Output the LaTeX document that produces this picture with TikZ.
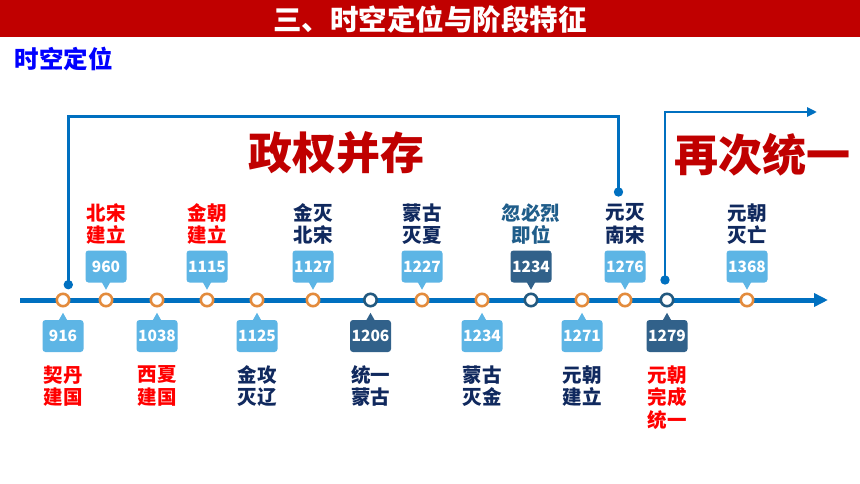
\documentclass[tikz,border=0pt]{standalone}
\usepackage{fontspec}
\setmainfont{Noto Sans CJK SC}
\usetikzlibrary{arrows.meta}
\definecolor{banner}{HTML}{C00000}
\definecolor{lineblue}{HTML}{0070C0}
\definecolor{boxlight}{HTML}{5DB5E5}
\definecolor{boxdark}{HTML}{31618A}
\definecolor{circorange}{HTML}{E38B3C}
\definecolor{circdark}{HTML}{22597F}
\definecolor{navy}{HTML}{10295E}
\definecolor{teal}{HTML}{1F5D8A}
\definecolor{redtxt}{HTML}{FF0000}
\definecolor{bigred}{HTML}{C00000}
\definecolor{subblue}{HTML}{0000FF}
\tikzset{
  box/.style={rounded corners=3pt, minimum width=41pt, minimum height=32pt, inner sep=0pt,
    text=white, font=\bfseries\fontsize{15.5}{15.5}\selectfont},
  lab/.style={font=\bfseries\fontsize{19.5}{22.5}\selectfont, align=center, inner sep=0pt},
  circ/.style={circle, minimum size=12.4pt, inner sep=0pt, line width=2.6pt, fill=white},
  bdot/.style={circle, minimum size=9.4pt, inner sep=0pt, fill=lineblue},
  bracket/.style={draw=lineblue, line width=2.8pt},
  bigtxt/.style={font=\bfseries\fontsize{44}{44}\selectfont, inner sep=0pt},
}
% #1 name, #2 x, #3 box colour, #4 circle colour, #5 text colour, #6 year, #7 label
\newcommand\evup[7]{%
  \node[box, fill=#3] (b#1) at (#2,266.5) {#6};
  \fill[#3] (b#1.south) ++(-4.5,-1) -- ++(4.5,8) -- ++(4.5,-8) -- cycle;
  \node[lab, text=#5] (l#1) at (#2,224) {#7};
  \node[circ, draw=#4] (c#1) at (#2,300) {};
}
\newcommand\evdown[8]{%
  \node[box, fill=#3] (b#1) at (#2,336) {#6};
  \fill[#3] (b#1.north) ++(-4.5,1) -- ++(4.5,-8) -- ++(4.5,8) -- cycle;
  \node[lab, text=#5] (l#1) at (#2,#8) {#7};
  \node[circ, draw=#4] (c#1) at (#2,300) {};
}
\begin{document}
\begin{tikzpicture}[x=1pt,y=-1pt]
\useasboundingbox (0,0) rectangle (860,484);
\fill[white] (0,0) rectangle (860,484);
% banner
\fill[banner] (0,0) rectangle (860,37);
\node[text=white, font=\bfseries\fontsize{28.5}{28.5}\selectfont, inner sep=0pt] (title) at (430,19) {三、时空定位与阶段特征};
\node[text=subblue, font=\bfseries\fontsize{24.5}{24.5}\selectfont, inner sep=0pt] (sub) at (64,59) {时空定位};
% big texts
\node[bigtxt, text=bigred] (big1) at (336,153) {政权并存};
\node[bigtxt, text=bigred] (big2) at (762,155) {再次统一};
% brackets
\node[bdot] (d1) at (68.3,284.7) {};
\node[bdot] (d2) at (618.5,192) {};
\node[bdot] (d3) at (665,280) {};
\coordinate (t1) at (0,116.5);
\coordinate (a2) at (817,112);
\draw[bracket] (d1.center) -- (d1.center |- t1) -| (d2.center);
\draw[bracket, -{Triangle[length=10pt, width=9pt]}] (d3.center) |- (a2);
% timeline
\coordinate (tl0) at (20,300);
\coordinate (tl1) at (828,300);
\draw[draw=lineblue, line width=5pt, -{Triangle[length=14pt, width=13pt]}] (tl0) -- (tl1);
% events
\evdown{916}{63}{boxlight}{circorange}{redtxt}{916}{契丹\\建国}{386}
\evup{960}{106}{boxlight}{circorange}{redtxt}{960}{北宋\\建立}
\evdown{1038}{157}{boxlight}{circorange}{redtxt}{1038}{西夏\\建国}{386}
\evup{1115}{207}{boxlight}{circorange}{redtxt}{1115}{金朝\\建立}
\evdown{1125}{257}{boxlight}{circorange}{navy}{1125}{金攻\\灭辽}{386}
\evup{1127}{313}{boxlight}{circorange}{navy}{1127}{金灭\\北宋}
\evdown{1206}{370.5}{boxdark}{circdark}{navy}{1206}{统一\\蒙古}{386}
\evup{1227}{422}{boxlight}{circorange}{navy}{1227}{蒙古\\灭夏}
\evdown{1234a}{482}{boxlight}{circorange}{navy}{1234}{蒙古\\灭金}{386}
\evup{1234b}{531}{boxdark}{circdark}{teal}{1234}{忽必烈\\即位}
\evdown{1271}{582}{boxlight}{circorange}{navy}{1271}{元朝\\建立}{386}
\evup{1276}{625}{boxlight}{circorange}{navy}{1276}{元灭\\南宋}
\evdown{1279}{667}{boxdark}{circdark}{redtxt}{1279}{元朝\\完成\\统一}{397.25}
\evup{1368}{747}{boxlight}{circorange}{navy}{1368}{元朝\\灭亡}
\end{tikzpicture}
\end{document}
